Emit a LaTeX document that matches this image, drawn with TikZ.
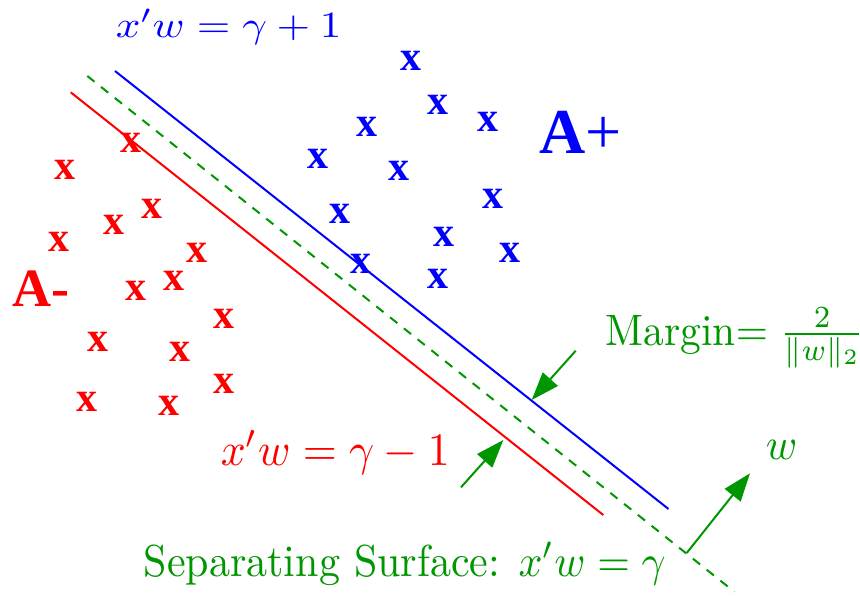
\documentclass[tikz,border=0pt]{standalone}
\usepackage{fontspec}
\newfontfamily\tms{Liberation Serif}
\usetikzlibrary{arrows.meta}
\definecolor{mgreen}{RGB}{0,150,0}
\definecolor{mblue}{RGB}{0,0,255}
\definecolor{mred}{RGB}{255,0,0}
\begin{document}
\begin{tikzpicture}[x=0.5pt,y=-0.5pt,
  mk/.style={font=\tms\bfseries\fontsize{21}{21}\selectfont, inner sep=0pt},
  posmark/.style={mk, text=mblue},
  negmark/.style={mk, text=mred},
  lbl/.style={font=\fontsize{10}{12}\selectfont, inner sep=0pt, anchor=base west},
  hyper/.style={line width=1pt},
  arr/.style={line width=1pt, draw=mgreen, -{Triangle[length=14pt,width=10pt]}}]
\useasboundingbox (0,0) rectangle (860,600);
% hyperplanes
\coordinate (bs) at (115,71);
\coordinate (be) at (668.5,509);
\coordinate (rs) at (70.7,92.3);
\coordinate (re) at (603.3,515);
\coordinate (gs) at (87.3,76);
\coordinate (ge) at (734.3,591.7);
\draw[hyper, mblue] (bs) -- (be);
\draw[hyper, mred] (rs) -- (re);
\draw[hyper, mgreen, dash pattern=on 4.6pt off 4.2pt] (gs) -- (ge);
% negative points
\node[negmark] (r1) at (130.7,143.3) {x};
\node[negmark] (r2) at (65,170) {x};
\node[negmark] (r3) at (152.3,209.3) {x};
\node[negmark] (r4) at (114,225) {x};
\node[negmark] (r5) at (59.3,242.3) {x};
\node[negmark] (r6) at (196.7,253.3) {x};
\node[negmark] (r7) at (174,280.7) {x};
\node[negmark] (r8) at (136,291) {x};
\node[negmark] (r9) at (224,319) {x};
\node[negmark] (r10) at (97.7,341.7) {x};
\node[negmark] (r11) at (180,352.3) {x};
\node[negmark] (r12) at (224,384) {x};
\node[negmark] (r13) at (86.7,401.7) {x};
\node[negmark] (r14) at (169.3,406) {x};
% positive points
\node[posmark] (p1) at (411,60.7) {x};
\node[posmark] (p2) at (438,105) {x};
\node[posmark] (p3) at (488.3,121.7) {x};
\node[posmark] (p4) at (367.3,126.7) {x};
\node[posmark] (p5) at (317.7,159.3) {x};
\node[posmark] (p6) at (399.3,170.7) {x};
\node[posmark] (p7) at (492.7,199) {x};
\node[posmark] (p8) at (340,214.3) {x};
\node[posmark] (p9) at (444,236.7) {x};
\node[posmark] (p10) at (510,253.3) {x};
\node[posmark] (p11) at (361,264) {x};
\node[posmark] (p12) at (437.7,279) {x};
% class labels
\node[inner sep=0pt, anchor=base west, text=mblue, font=\tms\fontsize{32}{32}\selectfont] (aplus) at (539,153) {\textbf{A}+};
\node[inner sep=0pt, anchor=base west, text=mred, font=\tms\bfseries\fontsize{27}{27}\selectfont] (aminus) at (11.7,306) {A-};
% equation labels
\node[lbl, xscale=2.16, yscale=1.85, text=mblue] (lp) at (115,37) {$x'w=\gamma+1$};
\node[lbl, xscale=2.19, yscale=2.32, text=mred] (lm) at (220,465) {$x'w=\gamma-1$};
\node[lbl, xscale=2.1, yscale=2.24, text=mgreen] (ls) at (143,576) {Separating Surface: $x'w=\gamma$};
\node[lbl, xscale=2.07, yscale=2.2, text=mgreen] (lmar) at (605,345) {Margin$=\frac{2}{\|w\|_2}$};
\node[lbl, xscale=2.12, yscale=2.22, text=mgreen] (lw) at (765,459) {$w$};
% arrows
\coordinate (m1s) at (575.7,350.7);
\coordinate (m1t) at (531.7,400);
\coordinate (m2s) at (461,487.3);
\coordinate (m2t) at (503.3,440);
\coordinate (ws) at (686.7,553);
\coordinate (wt) at (750,473.3);
\draw[arr] (m1s) -- (m1t);
\draw[arr] (m2s) -- (m2t);
\draw[arr] (ws) -- (wt);
\end{tikzpicture}
\end{document}
